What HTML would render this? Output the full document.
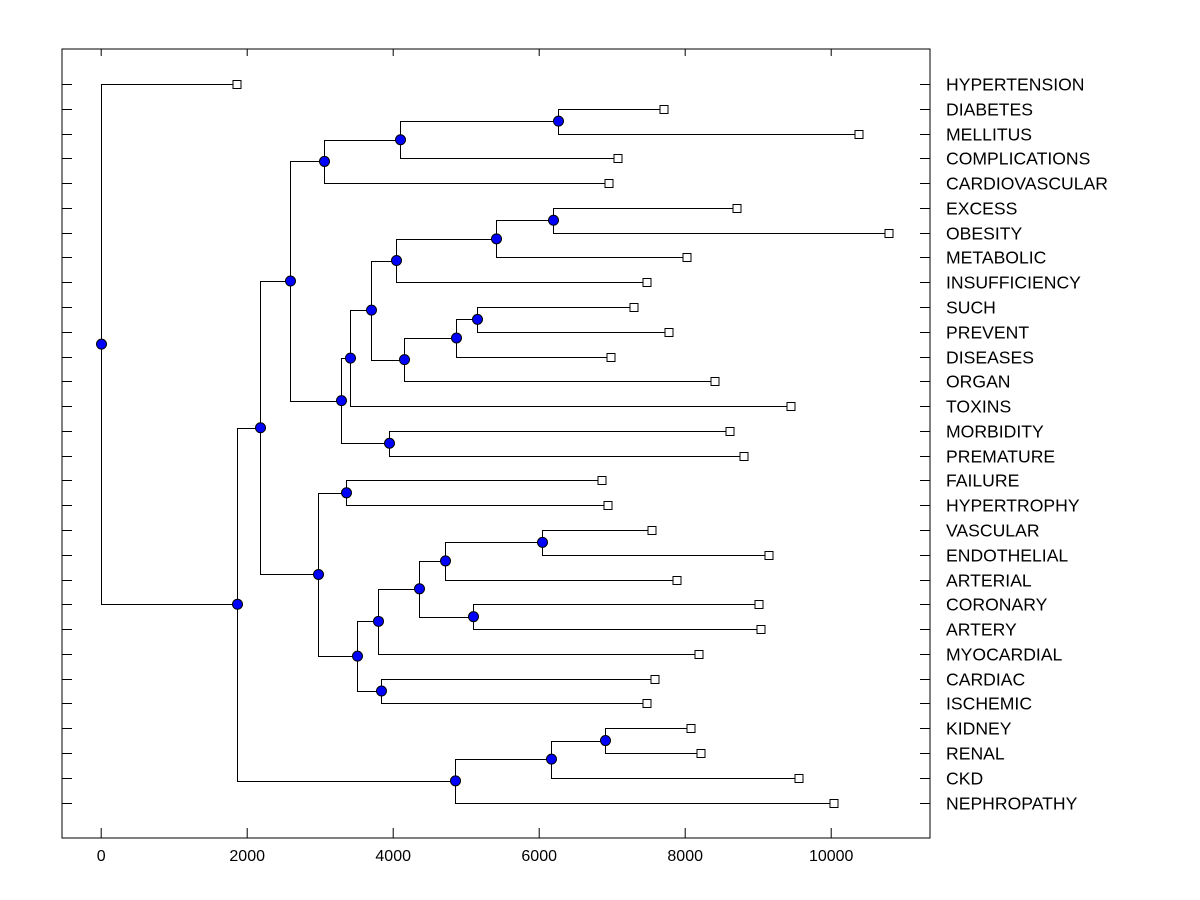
<!DOCTYPE html>
<html><head><meta charset="utf-8"><style>
html,body{margin:0;padding:0;background:#fff;}
svg{display:block;font-family:"Liberation Sans",Arial,sans-serif;}
</style></head><body>
<svg id="chart" width="1200" height="900" xmlns="http://www.w3.org/2000/svg"></svg>
<script>
const leafNames=["HYPERTENSION","DIABETES","MELLITUS","COMPLICATIONS","CARDIOVASCULAR","EXCESS","OBESITY","METABOLIC","INSUFFICIENCY","SUCH","PREVENT","DISEASES","ORGAN","TOXINS","MORBIDITY","PREMATURE","FAILURE","HYPERTROPHY","VASCULAR","ENDOTHELIAL","ARTERIAL","CORONARY","ARTERY","MYOCARDIAL","CARDIAC","ISCHEMIC","KIDNEY","RENAL","CKD","NEPHROPATHY"];
const leafValues=[1860,7715,10383,7086,6950,8714,10793,8030,7483,7305,7784,6977,8413,9453,8618,8810,6854,6936,7551,9152,7893,9015,9042,8194,7592,7483,8085,8222,9562,10041];
const mergeLeft=[1,30,31,5,33,34,9,36,37,35,39,14,40,32,16,18,45,21,46,48,24,49,44,43,26,54,55,53,0];
const mergeRight=[2,3,4,6,7,8,10,11,12,38,13,15,41,42,17,19,20,22,47,23,25,50,51,52,27,28,29,56,57];
const mergeHeights=[6252,4090,3051,6183,5404,4036,5144,4856,4145,3694,3406,3940,3283,2585,3352,6033,4706,5089,4350,3789,3830,3502,2969,2175,6895,6156,4843,1860,0];
const xTicks=[0,2000,4000,6000,8000,10000];

const svg=document.getElementById('chart');
const NS='http://www.w3.org/2000/svg';
const L=62,R=930,T=49,B=838;
const xs=v=>101.2+v*0.0730;
const y0=84,dy=(802.5-84)/29;
const ys=i=>y0+i*dy;
function mk(tag,attrs,parent){const e=document.createElementNS(NS,tag);for(const k in attrs)e.setAttribute(k,attrs[k]);(parent||svg).appendChild(e);return e;}

const frame=mk('rect',{x:L,y:T,width:R-L,height:B-T,fill:'none',stroke:'#000','stroke-width':1});



const xAxis=mk('g',{});


xTicks.forEach(t=>{
  const x=xs(t);
  mk('line',{x1:x,y1:B,x2:x,y2:B-10,stroke:'#000'},xAxis);
  mk('line',{x1:x,y1:T,x2:x,y2:T+7,stroke:'#000'},xAxis);
  const tx=mk('text',{x:x,y:B+23,'text-anchor':'middle','font-size':16,fill:'#000'},xAxis);
  tx.textContent=t;
  
  
});

const nx=[],ny=[];
leafValues.forEach((v,i)=>{nx[i]=v;ny[i]=ys(i);});
mergeHeights.forEach((h,k)=>{const id=30+k;nx[id]=h;ny[id]=(ny[mergeLeft[k]]+ny[mergeRight[k]])/2;});

const links=mk('g',{fill:'none',stroke:'#000','stroke-width':1});


mergeHeights.forEach((h,k)=>{
  const a=mergeLeft[k],b=mergeRight[k],px=Math.round(xs(h))+0.5;
  const p=mk('path',{d:`M${Math.round(xs(nx[a]))} ${Math.round(ny[a])+0.5}H${px}V${Math.round(ny[b])+0.5}H${Math.round(xs(nx[b]))}`},links);
  
  
});

leafNames.forEach((n,i)=>{
  const y=Math.round(ys(i))+0.5;
  mk('line',{x1:L,y1:y,x2:L+10,y2:y,stroke:'#000'});
  mk('line',{x1:R-10,y1:y,x2:R,y2:y,stroke:'#000'});
  const sq=mk('rect',{x:Math.round(xs(leafValues[i]))-4,y:y-4,width:8,height:8,fill:'#fff',stroke:'#000'});
  
  
  const t=mk('text',{x:946,y:y+6,'font-size':17.6,fill:'#000'});
  t.textContent=n;
  
  
});

mergeHeights.forEach((h,k)=>{
  const c=mk('circle',{cx:Math.round(xs(h))+0.5,cy:ny[30+k],r:5,fill:'#0000ff',stroke:'#000','stroke-width':1});
  
  
});
</script>
</body></html>
